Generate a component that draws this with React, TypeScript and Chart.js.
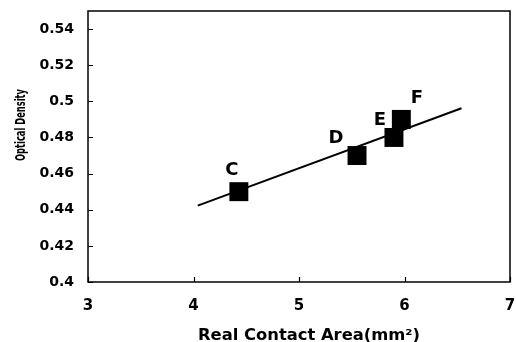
import React, { useEffect, useRef } from "react";
import { Chart, registerables } from "chart.js";

Chart.register(...registerables);

// ---- data ----
const pointLabels = ["C", "D", "E", "F"];
const contactArea = [4.43, 5.55, 5.9, 5.97];
const opticalDensity = [0.45, 0.47, 0.48, 0.49];
const trendX = [4.04, 6.54];
const trendY = [0.4423, 0.4962];
const xTicks = [3, 4, 5, 6, 7];
const yTicks = [0.4, 0.42, 0.44, 0.46, 0.48, 0.5, 0.52, 0.54];
const xTitle = "Real Contact Area(mm²)";
const yTitle = "Optical Density";

// ---- styling ----
const FONT = "'DejaVu Sans', sans-serif";
const labelOffsets: [number, number][] = [
  [-7, -21],
  [-21, -17.5],
  [-14, -17],
  [15.5, -21.5],
];

const fmt = (v: number) =>
  Number(v).toFixed(2).replace(/0+$/, "").replace(/\.$/, "");

const zeroPad = (s: any) => {
  s.paddingLeft = 0;
  s.paddingRight = 0;
  s.paddingTop = 0;
  s.paddingBottom = 0;
};

const decorPlugin = {
  id: "decor",
  afterDraw(chart: any) {
    const ctx = chart.ctx as CanvasRenderingContext2D;
    const { left, right, top, bottom } = chart.chartArea;
    const xs = chart.scales.x;
    const ys = chart.scales.y;
    ctx.save();
    // frame
    ctx.strokeStyle = "#000";
    ctx.lineWidth = 1.5;
    ctx.strokeRect(left, top, right - left, bottom - top);
    // inside ticks
    ctx.lineWidth = 1.2;
    ctx.beginPath();
    for (const v of yTicks) {
      const y = Math.round(ys.getPixelForValue(v)) + 0.5;
      ctx.moveTo(left, y);
      ctx.lineTo(left + 5, y);
    }
    for (const v of xTicks) {
      const x = Math.round(xs.getPixelForValue(v)) + 0.5;
      ctx.moveTo(x, bottom);
      ctx.lineTo(x, bottom - 5);
    }
    ctx.stroke();
    // point labels
    ctx.fillStyle = "#000";
    ctx.font = `bold 18px ${FONT}`;
    ctx.textAlign = "center";
    ctx.textBaseline = "middle";
    pointLabels.forEach((t, i) => {
      const px = xs.getPixelForValue(contactArea[i]);
      const py = ys.getPixelForValue(opticalDensity[i]);
      ctx.fillText(t, px + labelOffsets[i][0], py + labelOffsets[i][1]);
    });
    // x title
    ctx.font = `bold 16px ${FONT}`;
    ctx.textBaseline = "alphabetic";
    const wx = ctx.measureText(xTitle).width;
    ctx.save();
    ctx.translate(309, 340);
    ctx.scale(222 / wx, 1);
    ctx.fillText(xTitle, 0, 0);
    ctx.restore();
    // y title
    ctx.font = `bold 14px ${FONT}`;
    ctx.textBaseline = "middle";
    const wy = ctx.measureText(yTitle).width;
    ctx.save();
    ctx.translate(21, 125);
    ctx.rotate(-Math.PI / 2);
    ctx.scale(72 / wy, 1);
    ctx.fillText(yTitle, 0, 0);
    ctx.restore();
    ctx.restore();
  },
};

export default function App() {
  const ref = useRef<HTMLCanvasElement | null>(null);
  useEffect(() => {
    if (!ref.current) return;
    const chart = new Chart(ref.current, {
      type: "scatter",
      data: {
        datasets: [
          {
            label: "trend",
            data: trendX.map((x, i) => ({ x, y: trendY[i] })),
            showLine: true,
            borderColor: "#000",
            borderWidth: 2,
            pointRadius: 0,
          },
          {
            label: "samples",
            data: contactArea.map((x, i) => ({ x, y: opticalDensity[i] })),
            pointStyle: "rect",
            pointRadius: 13.4,
            backgroundColor: "#000",
            borderColor: "#000",
            borderWidth: 0,
          },
        ],
      },
      options: {
        responsive: false,
        animation: false,
        layout: { autoPadding: false, padding: { left: 0, top: 11, right: 6, bottom: 0 } },
        plugins: { legend: { display: false }, tooltip: { enabled: false } },
        scales: {
          x: {
            type: "linear",
            min: 3,
            max: 7,
            afterBuildTicks: (s: any) => {
              s.ticks = xTicks.map((v) => ({ value: v }));
            },
            afterFit: (s: any) => {
              s.height = 60;
              zeroPad(s);
            },
            grid: { display: false, drawTicks: false, tickLength: 0 },
            border: { display: false },
            ticks: {
              padding: 15,
              color: "#000",
              font: { family: FONT, size: 15, weight: "bold" },
              callback: (v: any) => fmt(v),
            },
          },
          y: {
            type: "linear",
            min: 0.4,
            max: 0.55,
            afterBuildTicks: (s: any) => {
              s.ticks = yTicks.map((v) => ({ value: v }));
            },
            afterFit: (s: any) => {
              s.width = 88;
              zeroPad(s);
            },
            grid: { display: false, drawTicks: false, tickLength: 0 },
            border: { display: false },
            ticks: {
              padding: 14,
              color: "#000",
              font: { family: FONT, size: 14, weight: "bold" },
              callback: (v: any) => fmt(v),
            },
          },
        },
      },
      plugins: [decorPlugin],
    });
    return () => chart.destroy();
  }, []);
  return (
    <div style={{ position: "absolute", left: 0, top: 0, width: 516, height: 342, background: "#fff" }}>
      <canvas ref={ref} width={516} height={342} />
    </div>
  );
}
